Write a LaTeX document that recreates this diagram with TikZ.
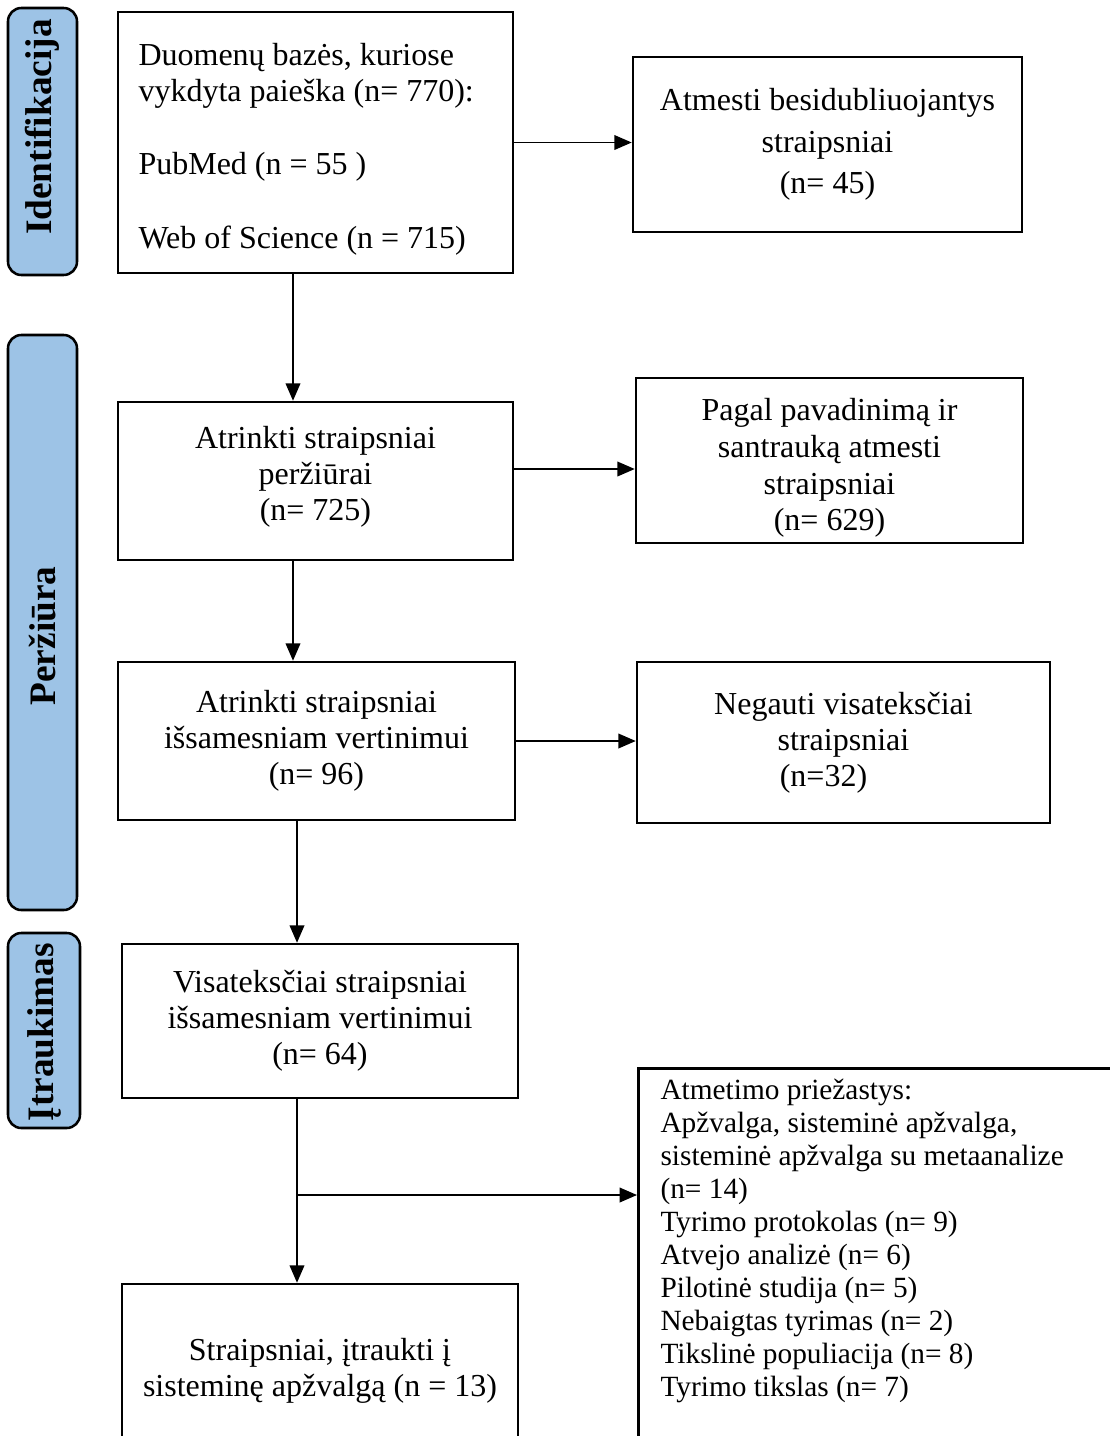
\documentclass[tikz,border=0pt]{standalone}
\usepackage{fontspec}
\setmainfont{Liberation Serif}
\usetikzlibrary{arrows.meta}
\definecolor{sideblue}{RGB}{157,195,230}
\begin{document}
\begin{tikzpicture}[x=0.375pt,y=-0.375pt,
  box/.style={draw,line width=0.95pt,inner sep=0pt,align=center,
    font=\fontsize{12}{13.5}\selectfont},
  plain/.style={inner sep=0pt,align=center,font=\fontsize{12}{13.5}\selectfont},
  side/.style={draw,line width=0.95pt,fill=sideblue,rounded corners=5pt,inner sep=0pt},
  sidetext/.style={rotate=90,inner sep=0pt,font=\fontsize{14}{16}\selectfont\bfseries},
  arr/.style={line width=0.55pt,-{Triangle[length=6.5pt,width=5.5pt]}},
  ln/.style={line width=0.55pt}]
\useasboundingbox (0,0) rectangle (1110,1436);
\clip (0,0) rectangle (1110,1436);

% side labels
\node[side,minimum width=25.875pt,minimum height=100.125pt] (L1) at (42.5,141.5) {};
\node[side,minimum width=25.875pt,minimum height=215.625pt] (L2) at (42.5,622.5) {};
\node[side,minimum width=27pt,minimum height=73.125pt] (L3) at (44,1030.5) {};
\node[sidetext] (T1) at (42.5,127) {Identifikacija};
\node[sidetext] (T2) at (42.5,636) {Peržiūra};
\node[sidetext] (T3) at (44,1032) {Įtraukimas};

% main column
\node[box,minimum width=148.125pt,minimum height=97.875pt] (b1) at (315.5,142.5) {};
\node[plain,anchor=west,align=flush left,font=\fontsize{12}{13.7}\selectfont] (b1t) at (138,149)
  {Duomenų bazės, kuriose\\ vykdyta paieška (n= 770):\\[13.7pt]
   PubMed (n = 55 )\\[13.7pt] Web of Science (n = 715)};
\node[box,minimum width=148.125pt,minimum height=59.25pt] (b2) at (315.5,481) {};
\node[plain] (b2t) at (315.5,477) {Atrinkti straipsniai\\ peržiūrai\\ (n= 725)};
\node[box,minimum width=148.875pt,minimum height=59.25pt] (b3) at (316.5,741)
  {Atrinkti straipsniai\\ išsamesniam vertinimui\\ (n= 96)};
\node[box,minimum width=148.5pt,minimum height=57.75pt] (b4) at (320,1021)
  {Visateksčiai straipsniai\\ išsamesniam vertinimui\\ (n= 64)};
\node[box,minimum width=148.5pt,minimum height=63pt] (b5) at (320,1368) {};
\node[plain] (b5t) at (320,1371) {Straipsniai, įtraukti į\\ sisteminę apžvalgą (n = 13)};

% right column
\node[box,minimum width=145.9pt,minimum height=65.625pt,
  font=\fontsize{12}{15.5}\selectfont] (r1) at (827.5,144.5)
  {Atmesti besidubliuojantys\\ straipsniai\\ (n= 45)};
\node[box,minimum width=145.125pt,minimum height=61.875pt] (r2) at (829.5,460.5) {};
\node[plain,font=\fontsize{12}{13.8}\selectfont] (r2t) at (829.5,468)
  {Pagal pavadinimą ir\\ santrauką atmesti\\ straipsniai\\ (n= 629)};
\node[box,minimum width=154.875pt,minimum height=60.375pt] (r3) at (843.5,742.5)
  {Negauti visateksčiai\\ straipsniai\\ (n=32)\hspace*{15pt}};
\node[box,anchor=north west,minimum width=195pt,minimum height=157.5pt] (r4) at (637,1067) {};
\node[anchor=north west,inner sep=0pt,align=flush left,
  font=\fontsize{11}{12.35}\selectfont] (r4t) at (660,1079)
  {Atmetimo priežastys:\\ Apžvalga, sisteminė apžvalga,\\
   sisteminė apžvalga su metaanalize\\ (n= 14)\\ Tyrimo protokolas (n= 9)\\
   Atvejo analizė (n= 6)\\ Pilotinė studija (n= 5)\\ Nebaigtas tyrimas (n= 2)\\
   Tikslinė populiacija (n= 8)\\ Tyrimo tikslas (n= 7)};

% connectors
\draw[arr] (b1.east) -- (b1.east -| r1.west);
\draw[arr] ([xshift=-8.44pt]b1.south) -- ([xshift=-8.44pt]b1.south |- b2.north);
\draw[arr] ([yshift=4.5pt]b2.east) -- ([yshift=4.5pt]b2.east -| r2.west);
\draw[arr] ([xshift=-8.44pt]b2.south) -- ([xshift=-8.44pt]b2.south |- b3.north);
\draw[arr] (b3.east) -- (b3.east -| r3.west);
\draw[arr] ([xshift=-7.31pt]b3.south) -- ([xshift=-7.31pt]b3.south |- b4.north);
\draw[arr] ([xshift=-8.625pt]b4.south) -- ([xshift=-8.625pt]b4.south |- b5.north);
\coordinate (br) at (297,1195);
\draw[arr] (br) -- (br -| r4.west);
\end{tikzpicture}
\end{document}
